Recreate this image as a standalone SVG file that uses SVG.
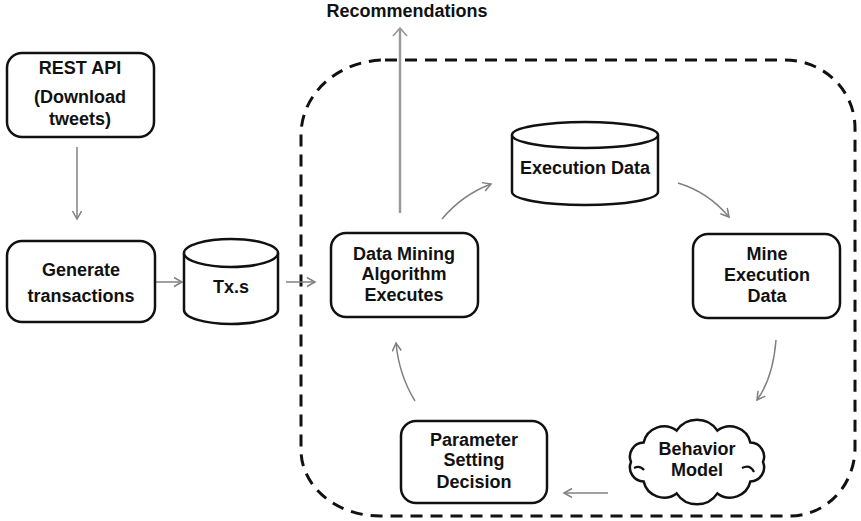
<svg xmlns="http://www.w3.org/2000/svg" width="861" height="521" viewBox="0 0 861 521">
<defs>
<style>
.box{fill:#fff;stroke:#111;stroke-width:2.5}
.t{font-family:"Liberation Sans",Arial,sans-serif;font-weight:bold;font-size:18px;fill:#111;text-anchor:middle}
.c{fill:none;stroke:#808080;stroke-width:1.5}
.frame{fill:none;stroke:#111;stroke-width:3;stroke-dasharray:12 8}
</style>
<marker id="ah" markerWidth="12" markerHeight="12" refX="9" refY="5" orient="auto" markerUnits="userSpaceOnUse">
<path d="M1,0.5 L9,5 L1,9.5" fill="none" stroke="#808080" stroke-width="1.5"/>
</marker>
</defs>
<rect width="861" height="521" fill="#fff"/>
<path class="frame" d="M385,60 H785 A70,68 0 0 1 855,128 V448 A65,68 0 0 1 790,516 H380 A79,66 0 0 1 301,450 V135 A84,75 0 0 1 385,60 Z"/>
<g id="connectors">
<line class="c" x1="77" y1="147" x2="77" y2="219" marker-end="url(#ah)"/>
<line class="c" x1="155" y1="282" x2="182" y2="282" marker-end="url(#ah)"/>
<line class="c" x1="286" y1="282" x2="315" y2="282" marker-end="url(#ah)"/>
<line x1="400" y1="213" x2="400" y2="29" stroke="#9a9a9a" stroke-width="2.5"/>
<path d="M393,36 L400,28 L407,36" fill="none" stroke="#9a9a9a" stroke-width="1.8"/>
<path class="c" d="M442,219 Q462,195 491,184" marker-end="url(#ah)"/>
<path class="c" d="M678,183 Q708,192 729,217" marker-end="url(#ah)"/>
<path class="c" d="M776,340 Q773,378 757,400" marker-end="url(#ah)"/>
<line class="c" x1="608" y1="493" x2="564" y2="493" marker-end="url(#ah)"/>
<path class="c" d="M415,401 Q399,375 396,343" marker-end="url(#ah)"/>
</g>
<g id="rest-api">
<rect class="box" x="7" y="53" width="147" height="84" rx="15"/>
<text class="t" x="80" y="74">REST API</text>
<text class="t" x="80" y="103">(Download</text>
<text class="t" x="80" y="125">tweets)</text>
</g>
<g id="generate">
<rect class="box" x="7" y="241" width="148" height="81" rx="15"/>
<text class="t" x="81" y="276">Generate</text>
<text class="t" x="81" y="302">transactions</text>
</g>
<g id="txs">
<path class="box" d="M184,253 V310 A47,14 0 0 0 278,310 V253"/>
<ellipse class="box" cx="231" cy="253" rx="47" ry="14"/>
<text class="t" x="231" y="293">Tx.s</text>
</g>
<g id="recommendations">
<text class="t" x="407" y="17">Recommendations</text>
</g>
<g id="dma">
<rect class="box" x="331" y="233" width="147" height="84" rx="15"/>
<text class="t" x="404" y="260">Data Mining</text>
<text class="t" x="404" y="280">Algorithm</text>
<text class="t" x="404" y="301">Executes</text>
</g>
<g id="execution-data">
<path class="box" d="M512,135 V192 A73,13 0 0 0 658,192 V135"/>
<ellipse class="box" cx="585" cy="135" rx="73" ry="13"/>
<text class="t" x="585" y="174">Execution Data</text>
</g>
<g id="mine">
<rect class="box" x="693" y="234" width="147" height="84" rx="15"/>
<text class="t" x="767" y="260">Mine</text>
<text class="t" x="767" y="281">Execution</text>
<text class="t" x="767" y="302">Data</text>
</g>
<g id="behavior">
<path class="box" d="M631,462 A14,14 0 0,1 643.6,442.6 A21,21 0 0,1 676.6,430.6 A24.5,24.5 0 0,1 717.4,430.6 A21,21 0 0,1 750.4,442.6 A14,14 0 0,1 763,462 A14,14 0 0,1 750.4,481.4 A21,21 0 0,1 717.4,493.4 A24.5,24.5 0 0,1 676.6,493.4 A21,21 0 0,1 643.6,481.4 A14,14 0 0,1 631,462 Z"/>
<path d="M742,468 Q750,464 754,472" fill="none" stroke="#111" stroke-width="2.2"/>
<path d="M634,468 Q640,465 644,470" fill="none" stroke="#111" stroke-width="2.2"/>
<text class="t" x="697" y="455">Behavior</text>
<text class="t" x="697" y="476">Model</text>
</g>
<g id="parameter">
<rect class="box" x="401" y="421" width="146" height="82" rx="15"/>
<text class="t" x="474" y="446">Parameter</text>
<text class="t" x="474" y="466">Setting</text>
<text class="t" x="474" y="488">Decision</text>
</g>
</svg>
